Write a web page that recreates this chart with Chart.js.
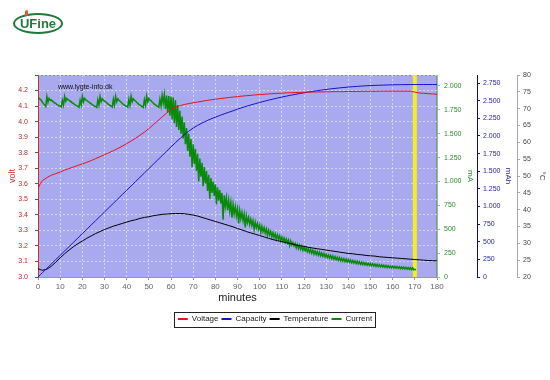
<!DOCTYPE html>
<html><head><meta charset="utf-8">
<script src="https://cdn.jsdelivr.net/npm/chart.js@4.4.0/dist/chart.umd.min.js"></script>
<style>
html,body{margin:0;padding:0;background:#fff;}
#wrap{position:relative;width:550px;height:380px;overflow:hidden;}
canvas{position:absolute;left:0;top:0;}
#logo{position:absolute;left:13px;top:13px;width:46px;height:17px;border:2px solid #1f7a3c;border-radius:50%;font:bold 13px "Liberation Sans",Arial,sans-serif;color:#1f7a3c;text-align:center;line-height:17px;letter-spacing:0px;}
#logo span{position:absolute;left:10px;top:-5px;width:3px;height:6px;background:#e2572a;border-radius:2px;}
</style></head>
<body><div id="wrap"><canvas id="c" width="550" height="380"></canvas><div id="logo"><span></span>UFine</div></div>
<script>
// ---- data ----
const times = [0,1,2,4,6,8,10,12,14,16,18,20,22,24,26,28,30,32,34,36,38,40,42,44,46,48,50,52,54,56,58,60,62,64,66,68,70,72,74,76,78,80,82,84,86,88,90,92,94,96,98,100,102,104,106,108,110,112,114,116,118,120,122,124,126,128,130,132,134,136,138,140,142,144,146,148,150,152,154,156,158,160,162,164,166,168,170,172,174,176,178,180];
const voltage = [3.570,3.600,3.620,3.640,3.655,3.665,3.675,3.688,3.698,3.708,3.718,3.728,3.738,3.749,3.762,3.774,3.787,3.800,3.813,3.827,3.842,3.858,3.875,3.893,3.912,3.932,3.955,3.980,4.005,4.030,4.055,4.078,4.093,4.102,4.110,4.116,4.121,4.126,4.131,4.136,4.140,4.144,4.148,4.151,4.155,4.158,4.161,4.164,4.167,4.169,4.172,4.174,4.176,4.178,4.180,4.182,4.183,4.185,4.186,4.187,4.188,4.189,4.190,4.190,4.191,4.191,4.192,4.192,4.193,4.193,4.193,4.194,4.194,4.194,4.195,4.195,4.195,4.195,4.196,4.196,4.196,4.196,4.196,4.196,4.196,4.196,4.190,4.184,4.182,4.180,4.178,4.176];
const capacity = [0,30,61,123,184,246,307,369,430,492,553,615,676,738,799,861,922,984,1045,1107,1168,1230,1291,1353,1414,1476,1537,1599,1660,1722,1783,1845,1905,1963,2018,2068,2112,2150,2184,2214,2242,2267,2291,2314,2336,2357,2382,2402,2421,2440,2458,2475,2492,2508,2523,2538,2552,2565,2578,2590,2602,2613,2623,2633,2643,2652,2660,2668,2675,2682,2688,2694,2699,2704,2708,2712,2715,2718,2720,2722,2724,2726,2727,2728,2729,2730,2730,2730,2730,2730,2730,2730];
const temperature = [22.5,22.2,22.0,22.3,23.2,24.4,25.7,26.9,28.0,29.0,29.9,30.7,31.5,32.2,32.9,33.5,34.1,34.6,35.1,35.5,35.9,36.3,36.7,37.0,37.4,37.7,37.9,38.2,38.4,38.6,38.7,38.8,38.85,38.85,38.8,38.6,38.4,38.1,37.7,37.3,36.9,36.5,36.1,35.7,35.3,34.9,34.4,34.0,33.5,33.1,32.7,32.3,31.9,31.5,31.1,30.8,30.5,30.2,29.9,29.6,29.3,29.1,28.8,28.6,28.4,28.2,28.0,27.8,27.6,27.4,27.2,27.0,26.9,26.7,26.6,26.4,26.3,26.2,26.0,25.9,25.8,25.7,25.6,25.5,25.4,25.3,25.2,25.1,25.0,24.9,24.85,24.8];
// current, one upper and one lower reading per minute (minutes 0..170)
const currentHi = [1880,1860,1830,1800,1890,1870,1855,1835,1818,1802,1790,1850,1890,1870,1852,1835,1818,1800,1788,1850,1892,1870,1850,1832,1815,1798,1785,1855,1890,1865,1845,1825,1805,1790,1860,1892,1865,1842,1820,1800,1788,1860,1893,1866,1843,1820,1800,1786,1855,1895,1870,1846,1822,1802,1788,1860,1900,1910,1900,1895,1890,1880,1850,1800,1740,1680,1620,1560,1500,1445,1390,1340,1290,1240,1195,1150,1110,1070,1035,1000,970,940,910,880,855,830,805,780,758,736,715,695,676,658,640,622,606,590,574,559,544,530,516,503,490,477,465,453,441,430,419,408,397,387,377,360,350,340,331,322,313,304,296,288,280,272,265,258,251,244,237,231,225,219,213,207,202,197,192,187,182,177,172,168,164,160,156,152,148,144,141,138,135,132,129,126,123,120,118,115,113,111,109,107,105,103,101,99,97,95,80];
const currentLo = [1870,1850,1815,1785,1830,1850,1840,1822,1805,1790,1780,1800,1840,1855,1840,1822,1805,1790,1778,1800,1835,1855,1838,1820,1802,1788,1776,1800,1835,1850,1832,1812,1795,1780,1800,1835,1850,1830,1808,1790,1778,1800,1835,1850,1830,1808,1790,1776,1800,1835,1852,1832,1810,1790,1778,1790,1820,1760,1720,1690,1650,1610,1570,1540,1500,1450,1390,1320,1260,1150,1180,1110,1000,1050,950,980,900,820,880,850,760,800,770,600,740,700,690,620,660,640,560,610,590,520,570,550,540,500,515,500,470,475,460,440,440,420,415,400,395,380,375,365,355,330,335,325,305,296,290,280,275,265,258,250,240,236,228,222,216,210,204,198,192,186,180,175,170,166,162,158,154,150,146,142,138,134,130,127,124,121,118,115,112,110,107,105,102,100,98,96,94,92,90,88,86,84,82,80,78,76,74,0];
const markerMinute = 170;
const xTicks = {min:0, max:180, step:10};
const seriesNames = ['Voltage','Capacity','Temperature','Current'];
const colors = {volt:'#e8101c', cap:'#1414c8', temp:'#000000', cur:'#0a8a0a'};

const pts = (xs, ys) => xs.map((x,i)=>({x, y:ys[i]}));
const currentPts = [];
currentHi.forEach((v,m)=>{ currentPts.push({x:m, y:v}); currentPts.push({x:m+0.5, y:currentLo[m]}); });

const FONT = '"Liberation Sans", Arial, sans-serif';
Chart.defaults.font.family = FONT;

const fmtK = v => v >= 1000 ? Math.floor(v/1000) + '.' + String(Math.round(v%1000)).padStart(3,'0') : String(Math.round(v));

const bgPlugin = {
  id:'bg',
  beforeDraw(chart){
    const {ctx, chartArea:a} = chart;
    ctx.save();
    ctx.fillStyle = '#a9a9ef';
    ctx.fillRect(a.left, a.top, a.right-a.left, a.bottom-a.top);
    ctx.strokeStyle = '#8c8c9c';
    ctx.lineWidth = 1;
    ctx.strokeRect(a.left+0.5, a.top+0.5, a.right-a.left-1, a.bottom-a.top);
    ctx.restore();
  },
  afterDraw(chart){
    const {ctx, chartArea:a} = chart;
    ctx.save();
    ctx.font = '7px ' + FONT;
    ctx.fillStyle = '#101010';
    ctx.textBaseline = 'middle';
    ctx.fillText('www.lygte-info.dk', a.left + 20, a.top + 12);
    // legend frame
    const lg = chart.legend;
    if (lg && lg.legendHitBoxes && lg.legendHitBoxes.length){
      const hb = lg.legendHitBoxes;
      const l = Math.min(...hb.map(h=>h.left)) - 4;
      const r = Math.max(...hb.map(h=>h.left+h.width)) + 3;
      const t = Math.min(...hb.map(h=>h.top)) - 3;
      const b = Math.max(...hb.map(h=>h.top+h.height)) + 4;
      ctx.strokeStyle = '#222';
      ctx.lineWidth = 1;
      ctx.strokeRect(Math.round(l)+0.5, Math.round(t)+0.5, Math.round(r-l), Math.round(b-t));
    }
    ctx.restore();
  }
};

new Chart(document.getElementById('c'), {
  type:'line',
  data:{ datasets:[
    {label:seriesNames[0], data:pts(times, voltage), yAxisID:'yV', borderColor:colors.volt, backgroundColor:colors.volt, borderWidth:1, pointRadius:0, tension:0},
    {label:seriesNames[1], data:pts(times, capacity), yAxisID:'yC', borderColor:colors.cap, backgroundColor:colors.cap, borderWidth:1, pointRadius:0, tension:0},
    {label:seriesNames[2], data:pts(times, temperature), yAxisID:'yT', borderColor:colors.temp, backgroundColor:colors.temp, borderWidth:1, pointRadius:0, tension:0},
    {label:seriesNames[3], data:currentPts, yAxisID:'yA', borderColor:colors.cur, backgroundColor:colors.cur, borderWidth:1.5, pointRadius:0, tension:0},
    {label:'marker', data:[{x:markerMinute, y:3.0},{x:markerMinute, y:4.3}], yAxisID:'yV', borderColor:'#f4f020', backgroundColor:'#f4f020', borderWidth:4, pointRadius:0}
  ]},
  options:{
    responsive:false, animation:false, events:[],
    layout:{padding:{top:75, left:0, right:0, bottom:47}},
    plugins:{
      tooltip:{enabled:false},
      legend:{
        position:'bottom',
        labels:{
          boxWidth:10, boxHeight:2, padding:3, color:'#222', font:{size:8},
          filter:(it)=>it.text !== 'marker',
          generateLabels:(chart)=>Chart.defaults.plugins.legend.labels.generateLabels(chart).map(l=>Object.assign(l,{lineWidth:0}))
        }
      }
    },
    scales:{
      x:{
        type:'linear', min:xTicks.min, max:xTicks.max,
        ticks:{stepSize:xTicks.step, color:'#666', font:{size:8}, padding:2, maxRotation:0},
        grid:{color:'rgba(255,255,255,0.5)', tickColor:'#999', tickLength:3, tickBorderDash:[]},
        border:{color:'#999', dash:[2,2]},
        title:{display:true, text:'minutes', color:'#222', font:{size:11}, padding:{top:0,bottom:7}},
        afterFit(s){ s.height = 35; }
      },
      yV:{
        position:'left', min:3.0, max:4.3,
        ticks:{stepSize:0.1, color:'#c02828', font:{size:7}, padding:7, includeBounds:false,
          callback:v => Math.abs(v-4.3)<1e-6 ? '' : v.toFixed(1)},
        grid:{color:'rgba(255,255,255,0.5)', tickColor:'#c02828', tickLength:3, tickBorderDash:[]},
        border:{color:'#d03030', dash:[2,2]},
        title:{display:true, text:'volt', color:'#d03030', font:{size:9}, padding:{top:7,bottom:0}},
        afterFit(s){ s.width = 38; }
      },
      yA:{
        position:'right', weight:1, min:0, max:2115,
        ticks:{stepSize:250, color:'#2e8a2e', font:{size:7}, padding:4, includeBounds:false, callback:fmtK},
        grid:{drawOnChartArea:false, tickColor:'#8cc88c', tickLength:3},
        border:{color:'#8cc88c'},
        title:{display:true, text:'mA', color:'#2e8a2e', font:{size:8}, padding:{top:2,bottom:0}},
        afterFit(s){ s.width = 40; }
      },
      yC:{
        position:'right', weight:2, min:0, max:2865,
        ticks:{stepSize:250, color:'#2626a0', font:{size:7}, padding:3, includeBounds:false, callback:fmtK},
        grid:{drawOnChartArea:false, tickColor:'#101070', tickLength:3},
        border:{color:'#101070'},
        title:{display:true, text:'mAh', color:'#2626a0', font:{size:8}, padding:{top:4,bottom:0}},
        afterFit(s){ s.width = 40; }
      },
      yT:{
        position:'right', weight:3, min:20, max:80,
        ticks:{stepSize:5, color:'#444', font:{size:7}, padding:3, includeBounds:false},
        grid:{drawOnChartArea:false, tickColor:'#aaa', tickLength:3},
        border:{color:'#aaa'},
        title:{display:true, text:'°C', color:'#444', font:{size:8}, padding:{top:3,bottom:0}},
        afterFit(s){ s.width = 33; }
      }
    }
  },
  plugins:[bgPlugin]
});
</script></body></html>
